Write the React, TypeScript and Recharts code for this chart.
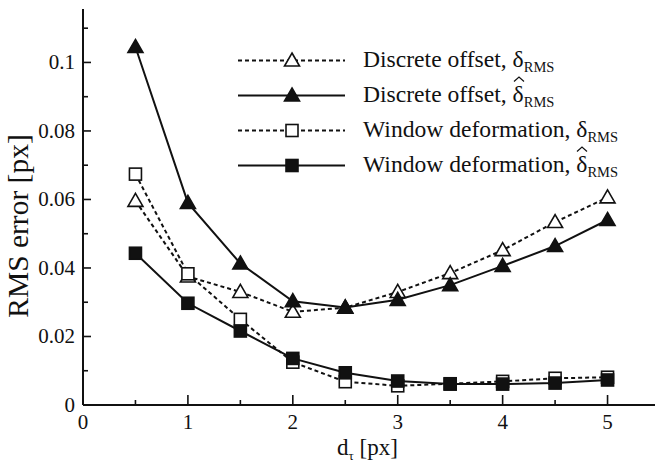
import {
  CartesianGrid,
  Legend,
  Line,
  LineChart,
  XAxis,
  YAxis,
} from 'recharts';

const dTau = [0.5, 1, 1.5, 2, 2.5, 3, 3.5, 4, 4.5, 5];
const discreteDelta = [0.0596, 0.0375, 0.033, 0.0272, 0.0284, 0.033, 0.0385, 0.0452, 0.0534, 0.0606];
const discreteHat = [0.1045, 0.059, 0.0413, 0.0303, 0.0285, 0.0307, 0.035, 0.0406, 0.0464, 0.054];
const windowDelta = [0.0674, 0.0383, 0.025, 0.0125, 0.0068, 0.0056, 0.0062, 0.0069, 0.0078, 0.0081];
const windowHat = [0.0443, 0.0297, 0.0216, 0.0136, 0.0094, 0.007, 0.0061, 0.0061, 0.0064, 0.0073];

const xTicks = [0, 0.5, 1, 1.5, 2, 2.5, 3, 3.5, 4, 4.5, 5];
const yTicks = [0, 0.01, 0.02, 0.03, 0.04, 0.05, 0.06, 0.07, 0.08, 0.09, 0.1, 0.11];
const yMajor = [0.02, 0.04, 0.06, 0.08, 0.1];
const yMinor = [0.01, 0.03, 0.05, 0.07, 0.09, 0.11];

const data = dTau.map((d, i) => ({
  d,
  discreteDelta: discreteDelta[i],
  discreteHat: discreteHat[i],
  windowDelta: windowDelta[i],
  windowHat: windowHat[i],
}));

const FONT = 'Liberation Serif';
const INK = '#111';

const isMajorY = (v: number) => Math.round(v * 100) % 2 === 0;
const fmtY = (v: number) => (v === 0 ? '0' : String(Math.round(v * 100) / 100));

function BottomTick({ x, y, payload }: any) {
  const v = payload.value;
  const major = Number.isInteger(v);
  return (
    <g>
      <line x1={x} y1={y} x2={x} y2={y - (major ? 10 : 5)} stroke={INK} strokeWidth={1.6} />
      {major && (
        <text x={x} y={y + 24} textAnchor="middle" style={{ fontFamily: FONT }} fontSize={21} fill={INK}>
          {v}
        </text>
      )}
    </g>
  );
}

function TopTick({ x, y, payload }: any) {
  const major = Number.isInteger(payload.value);
  return <line x1={x} y1={y} x2={x} y2={y + (major ? 10 : 5)} stroke={INK} strokeWidth={1.6} />;
}

function LeftTick({ x, y, payload }: any) {
  const v = payload.value;
  const major = isMajorY(v);
  return (
    <g>
      <line x1={x} y1={y} x2={x + (major ? 8 : 5)} y2={y} stroke={INK} strokeWidth={1.6} />
      {major && (
        <text x={x - 8} y={y + 7} textAnchor="end" style={{ fontFamily: FONT }} fontSize={21} fill={INK}>
          {fmtY(v)}
        </text>
      )}
    </g>
  );
}

function RightTick({ x, y, payload }: any) {
  const major = isMajorY(payload.value);
  return <line x1={x} y1={y} x2={x - (major ? 8 : 5)} y2={y} stroke={INK} strokeWidth={1.6} />;
}

function Marker({ cx, cy, shape, filled }: { cx: number; cy: number; shape: 'tri' | 'sq'; filled: boolean }) {
  const fill = filled ? INK : '#fff';
  if (shape === 'tri') {
    return (
      <path
        d={`M${cx},${cy - 7.5} L${cx + 7.5},${cy + 5.5} L${cx - 7.5},${cy + 5.5} Z`}
        fill={fill}
        stroke={INK}
        strokeWidth={1.6}
      />
    );
  }
  return <rect x={cx - 6} y={cy - 6} width={12} height={12} fill={fill} stroke={INK} strokeWidth={1.6} />;
}

const dotFor = (shape: 'tri' | 'sq', filled: boolean) => (props: any) =>
  <Marker key={props.index} cx={props.cx} cy={props.cy} shape={shape} filled={filled} />;

const legendItems = [
  { name: 'Discrete offset, ', hat: false, dashed: true, shape: 'tri' as const, filled: false },
  { name: 'Discrete offset, ', hat: true, dashed: false, shape: 'tri' as const, filled: true },
  { name: 'Window deformation, ', hat: false, dashed: true, shape: 'sq' as const, filled: false },
  { name: 'Window deformation, ', hat: true, dashed: false, shape: 'sq' as const, filled: true },
];

function Delta({ hat }: { hat: boolean }) {
  return (
    <span style={{ position: 'relative', display: 'inline-block' }}>
      δ
      {hat && (
        <svg width={12} height={6} style={{ position: 'absolute', left: 0, top: -1 }}>
          <path d="M1,5.5 L6,1 L11,5.5" fill="none" stroke={INK} strokeWidth={1.2} />
        </svg>
      )}
    </span>
  );
}

function LegendBox() {
  return (
    <div style={{ background: '#fff', fontFamily: FONT, color: INK }}>
      {legendItems.map((it, i) => (
        <div key={i} style={{ display: 'flex', alignItems: 'center', height: 35 }}>
          <svg width={130} height={35} style={{ display: 'block' }}>
            <line
              x1={5}
              y1={17.5}
              x2={112}
              y2={17.5}
              stroke={INK}
              strokeWidth={2}
              strokeDasharray={it.dashed ? '4 3' : undefined}
            />
            <Marker cx={59} cy={17.5} shape={it.shape} filled={it.filled} />
          </svg>
          <span style={{ fontSize: 23.6, whiteSpace: 'nowrap', lineHeight: '35px' }}>
            {it.name}
            <Delta hat={it.hat} />
            <span style={{ fontSize: 14.5, position: 'relative', top: 5 }}>RMS</span>
          </span>
        </div>
      ))}
    </div>
  );
}

function XTitle({ viewBox }: any) {
  const cx = viewBox.x + viewBox.width / 2;
  return (
    <text x={cx - 4} y={viewBox.y + 50} textAnchor="middle" style={{ fontFamily: FONT }} fontSize={23} fill={INK}>
      d
      <tspan fontSize={13} dy={5}>τ</tspan>
      <tspan dy={-5}> [px]</tspan>
    </text>
  );
}

function YTitle() {
  return (
    <text
      x={28}
      y={226}
      transform="rotate(-90, 28, 226)"
      textAnchor="middle"
      style={{ fontFamily: FONT }}
      fontSize={29.5}
      fill={INK}
    >
      RMS error [px]
    </text>
  );
}

export default function App() {
  return (
    <div style={{ position: 'absolute', left: 0, top: 0, background: '#fff', fontFamily: FONT }}>
      <LineChart width={668} height={462} data={data} margin={{ top: 9, right: 8, left: 0, bottom: 0 }}>
        <CartesianGrid
          vertical={false}
          horizontalValues={yMinor}
          stroke="#b0b0b0"
          strokeDasharray="1 3"
        />
        <CartesianGrid vertical={false} horizontalValues={yMajor} stroke="#8a8a8a" strokeWidth={1.3} />
        <XAxis
          xAxisId="b"
          dataKey="d"
          type="number"
          domain={[0, 5.5]}
          ticks={xTicks}
          height={57}
          tickSize={0}
          tickMargin={0}
          tickLine={false}
          axisLine={{ stroke: INK, strokeWidth: 2 }}
          tick={<BottomTick />}
          interval={0}
          label={<XTitle />}
        />
        <XAxis
          xAxisId="t"
          dataKey="d"
          type="number"
          orientation="top"
          domain={[0, 5.5]}
          ticks={xTicks}
          height={0}
          tickSize={0}
          tickMargin={0}
          tickLine={false}
          axisLine={{ stroke: INK, strokeWidth: 2 }}
          tick={<TopTick />}
          interval={0}
        />
        <YAxis
          yAxisId="l"
          type="number"
          domain={[0, 0.1156]}
          ticks={yTicks}
          width={83}
          tickSize={0}
          tickMargin={0}
          tickLine={false}
          axisLine={{ stroke: INK, strokeWidth: 2 }}
          tick={<LeftTick />}
          interval={0}
          label={<YTitle />}
        />
        <YAxis
          yAxisId="r"
          orientation="right"
          type="number"
          domain={[0, 0.1156]}
          ticks={yTicks}
          width={0}
          tickSize={0}
          tickMargin={0}
          tickLine={false}
          axisLine={{ stroke: INK, strokeWidth: 2 }}
          tick={<RightTick />}
          interval={0}
        />
        <Line
          xAxisId="b"
          yAxisId="l"
          dataKey="discreteDelta"
          stroke={INK}
          strokeWidth={2}
          strokeDasharray="4 3"
          dot={dotFor('tri', false)}
          isAnimationActive={false}
        />
        <Line
          xAxisId="b"
          yAxisId="l"
          dataKey="discreteHat"
          stroke={INK}
          strokeWidth={2}
          dot={dotFor('tri', true)}
          isAnimationActive={false}
        />
        <Line
          xAxisId="b"
          yAxisId="l"
          dataKey="windowDelta"
          stroke={INK}
          strokeWidth={2}
          strokeDasharray="4 3"
          dot={dotFor('sq', false)}
          isAnimationActive={false}
        />
        <Line
          xAxisId="b"
          yAxisId="l"
          dataKey="windowHat"
          stroke={INK}
          strokeWidth={2}
          dot={dotFor('sq', true)}
          isAnimationActive={false}
        />
        <Legend
          layout="vertical"
          align="center"
          verticalAlign="middle"
          content={<LegendBox />}
          wrapperStyle={{ left: 233, top: 43, width: 390, height: 140 }}
        />
      </LineChart>
    </div>
  );
}
